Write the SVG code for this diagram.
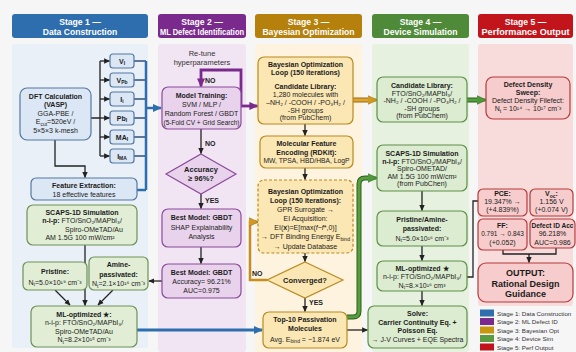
<svg xmlns="http://www.w3.org/2000/svg" width="576" height="352" viewBox="0 0 576 352">
<defs>
<style>
text{font-family:"Liberation Sans",Arial,sans-serif;font-size:7px;fill:#1b1b1b;text-anchor:middle}
.b{font-weight:bold}
.hd{font-size:8.6px;font-weight:bold;fill:#fff}
.lg{text-anchor:start;font-size:6.2px;fill:#333}
.sb{font-size:5px}
.bl{fill:#dbe7f4;stroke:#55789f;stroke-width:1.2}
.gr{fill:#e1eed5;stroke:#6e9158;stroke-width:1.2}
.pu{fill:#e8d2ec;stroke:#8a4b9a;stroke-width:1.2}
.ye{fill:#fbe7b3;stroke:#b98a1f;stroke-width:1.2}
.g4{fill:#dcecd0;stroke:#5e9048;stroke-width:1.2}
.rd{fill:#f6cccc;stroke:#b6393b;stroke-width:1.2}
.ln{fill:none;stroke:#222;stroke-width:1.3}
.lnb{fill:none;stroke:#2f6eae;stroke-width:2}
</style>
<marker id="ak" markerUnits="userSpaceOnUse" viewBox="0 0 10 10" refX="9" refY="5" markerWidth="6" markerHeight="6" orient="auto"><path d="M0,0.5L10,5L0,9.5z" fill="#222"/></marker>
<marker id="ab" markerUnits="userSpaceOnUse" viewBox="0 0 10 10" refX="9" refY="5" markerWidth="9" markerHeight="9" orient="auto"><path d="M0,0.5L10,5L0,9.5z" fill="#2f6eae"/></marker>
<marker id="ap" markerUnits="userSpaceOnUse" viewBox="0 0 10 10" refX="9" refY="5" markerWidth="9" markerHeight="9" orient="auto"><path d="M0,0.5L10,5L0,9.5z" fill="#7a2a8c"/></marker>
<marker id="ao" markerUnits="userSpaceOnUse" viewBox="0 0 10 10" refX="9" refY="5" markerWidth="10" markerHeight="10" orient="auto"><path d="M0,0.5L10,5L0,9.5z" fill="#d39a22" stroke="#9a6a10" stroke-width="0.6"/></marker>
<marker id="ag" markerUnits="userSpaceOnUse" viewBox="0 0 10 10" refX="9" refY="5" markerWidth="10" markerHeight="10" orient="auto"><path d="M0,0.5L10,5L0,9.5z" fill="#4f9a38" stroke="#2e5e20" stroke-width="0.6"/></marker>
</defs>

<rect x="0" y="0" width="576" height="352" fill="#f6f6f6"/>

<g id="panels">
<rect x="12" y="44" width="136" height="304" rx="3" fill="#e9f0f8"/>
<rect x="158" y="44" width="88" height="308" rx="3" fill="#f1e4f3"/>
<rect x="255" y="44" width="107" height="308" rx="3" fill="#fdf3df"/>
<rect x="372" y="44" width="97" height="308" rx="3" fill="#e6f1df"/>
<rect x="478" y="44" width="95" height="262" rx="3" fill="#f8dcdc"/>
</g>

<g id="headers">
<rect x="12" y="14" width="136" height="24" rx="3" fill="#2f6eae"/>
<text class="hd" x="80" y="24.5">Stage 1 —</text>
<text class="hd" x="80" y="34.5">Data Construction</text>
<rect x="158" y="14" width="88" height="24" rx="3" fill="#7a2a8c"/>
<text class="hd" x="202" y="24.5">Stage 2 —</text>
<text class="hd" x="202" y="34.5" textLength="84" lengthAdjust="spacingAndGlyphs">ML Defect Identification</text>
<rect x="255" y="14" width="107" height="24" rx="3" fill="#b5800c"/>
<text class="hd" x="308.5" y="24.5">Stage 3 —</text>
<text class="hd" x="308.5" y="34.5">Bayesian Optimization</text>
<rect x="372" y="14" width="97" height="24" rx="3" fill="#4f8a39"/>
<text class="hd" x="420.5" y="24.5">Stage 4 —</text>
<text class="hd" x="420.5" y="34.5">Device Simulation</text>
<rect x="478" y="14" width="95" height="24" rx="3" fill="#c1141b"/>
<text class="hd" x="525.5" y="24.5">Stage 5 —</text>
<text class="hd" x="525.5" y="34.5" textLength="88" lengthAdjust="spacingAndGlyphs">Performance Output</text>
</g>

<g id="connectors">
<path class="ln" d="M91,118H100M100,61V156"/>
<path class="ln" d="M100,61H109.5" marker-end="url(#ak)"/>
<path class="ln" d="M100,80H109.5" marker-end="url(#ak)"/>
<path class="ln" d="M100,99H109.5" marker-end="url(#ak)"/>
<path class="ln" d="M100,118H109.5" marker-end="url(#ak)"/>
<path class="ln" d="M100,137H109.5" marker-end="url(#ak)"/>
<path class="ln" d="M100,156H109.5" marker-end="url(#ak)"/>
<path class="ln" d="M134,61H146M134,80H146M134,99H146M134,118H146M134,137H146M134,156H146" style="stroke:#2f4f7a"/>
<path class="lnb" d="M146,61V190M137,190H146" style="stroke-width:2.5"/>
<path class="lnb" d="M146,108H161" style="stroke-width:2.5" marker-end="url(#ab)"/>
<path class="ln" d="M55,140V166H85V177.5" marker-end="url(#ak)"/>
<path class="ln" d="M85,245V305.5" marker-end="url(#ak)"/>
<path class="ln" d="M55,290L70,305" marker-end="url(#ak)"/>
<path class="ln" d="M113,290L98,305" marker-end="url(#ak)"/>
<path fill="none" stroke="#2f6eae" stroke-width="3" d="M137,330H262" marker-end="url(#ab)"/>
<path fill="none" stroke="#7a2a8c" stroke-width="2.8" d="M241,106V70H201V86.5" marker-end="url(#ap)"/>
<path fill="none" stroke="#7a2a8c" stroke-width="2.8" d="M241,106H257.5" marker-end="url(#ap)"/>
<path class="ln" d="M201,129V153.5" marker-end="url(#ak)"/>
<path class="ln" d="M201,194V208.5" marker-end="url(#ak)"/>
<path class="ln" d="M201,247V263.5" marker-end="url(#ak)"/>
<path class="ln" d="M162,281H149" marker-end="url(#ak)"/>
<path class="ln" d="M305,124V135.5" marker-end="url(#ak)"/>
<path class="ln" d="M305,168V179.5" marker-end="url(#ak)"/>
<path class="ln" d="M305,253V261.5" marker-end="url(#ak)"/>
<path class="ln" d="M305,298V311.5" marker-end="url(#ak)"/>
<path fill="none" stroke="#9a6a10" stroke-width="5" d="M353,100H369"/>
<path fill="none" stroke="#e0a433" stroke-width="3" d="M353,100H376.5" marker-end="url(#ao)"/>
<path fill="none" stroke="#c98d1a" stroke-width="2.5" d="M267,280H250V222H257.5" marker-end="url(#ao)"/>
<path class="ln" d="M347,330H367.5" marker-end="url(#ak)"/>
<path fill="none" stroke="#2e5e20" stroke-width="5" d="M347,317H353Q359,317 359,311V184Q359,178 365,178H370"/>
<path fill="none" stroke="#55a03c" stroke-width="3" d="M347,317H353Q359,317 359,311V184Q359,178 365,178H376.5" marker-end="url(#ag)"/>
<path fill="none" stroke="#2e5e20" stroke-width="5" d="M467,100H478"/>
<path fill="none" stroke="#55a03c" stroke-width="3" d="M467,100H485.5" marker-end="url(#ag)"/>
<path class="ln" d="M422,191V210.5" marker-end="url(#ak)"/>
<path class="ln" d="M422,246V260.5" marker-end="url(#ak)"/>
<path class="ln" d="M422,291V305.5" marker-end="url(#ak)"/>
<path class="ln" d="M467,277H473V201H478"/>
<path class="ln" d="M503,250V254H556V248"/>
<path class="ln" d="M529,254V262.5" marker-end="url(#ak)"/>
</g>

<g id="labels">
<text x="202" y="55.5" style="font-size:7.5px;fill:#333">Re-tune</text>
<text x="202" y="64.5" style="font-size:7.5px;fill:#333">hyperparameters</text>
<text class="b" x="205" y="83" style="text-anchor:start">NO</text>
<text class="b" x="205" y="146" style="text-anchor:start">NO</text>
<text class="b" x="205" y="203" style="text-anchor:start">YES</text>
<text class="b" x="252" y="276" style="text-anchor:start">NO</text>
<text class="b" x="309" y="305" style="text-anchor:start">YES</text>
</g>

<g id="dft">
<rect class="bl" x="20" y="88" width="71" height="52" rx="7"/>
<text class="b" x="55.5" y="99">DFT Calculation</text>
<text class="b" x="55.5" y="107">(VASP)</text>
<text x="55.5" y="115.5">GGA-PBE /</text>
<text x="55.5" y="124">E<tspan class="sb" dy="1.5">cut</tspan><tspan dy="-1.5">=520eV /</tspan></text>
<text x="55.5" y="132.5">5×5×3 k-mesh</text>
</g>

<g id="f1"><rect class="bl" x="110" y="54" width="24" height="14" rx="3"/><text class="b" x="122" y="63.5">V<tspan class="sb" dy="1.5">I</tspan></text></g>
<g id="f2"><rect class="bl" x="110" y="73" width="24" height="14" rx="3"/><text class="b" x="122" y="82.5">V<tspan class="sb" dy="1.5">Pb</tspan></text></g>
<g id="f3"><rect class="bl" x="110" y="92" width="24" height="14" rx="3"/><text class="b" x="122" y="101.5">I<tspan class="sb" dy="1.5">i</tspan></text></g>
<g id="f4"><rect class="bl" x="110" y="111" width="24" height="14" rx="3"/><text class="b" x="122" y="120.5">Pb<tspan class="sb" dy="1.5">I</tspan></text></g>
<g id="f5"><rect class="bl" x="110" y="130" width="24" height="14" rx="3"/><text class="b" x="122" y="139.5">MA<tspan class="sb" dy="1.5">I</tspan></text></g>
<g id="f6"><rect class="bl" x="110" y="149" width="24" height="14" rx="3"/><text class="b" x="122" y="158.5">I<tspan class="sb" dy="1.5">MA</tspan></text></g>

<g id="feature-extraction">
<rect class="bl" x="31" y="178" width="106" height="22" rx="5"/>
<text class="b" x="84" y="187.5">Feature Extraction:</text>
<text x="84" y="196.5">18 effective features</text>
</g>

<g id="scaps1">
<rect class="gr" x="27" y="205" width="110" height="40" rx="6"/>
<text class="b" x="82" y="214.5">SCAPS-1D Simulation</text>
<text x="82" y="223"><tspan class="b">n-i-p:</tspan> FTO/SnO₂/MAPbI₃/</text>
<text x="94" y="231.5">Spiro-OMeTAD/Au</text>
<text x="80" y="240">AM 1.5G 100 mW/cm²</text>
</g>

<g id="pristine">
<rect class="gr" x="23" y="262" width="64" height="28" rx="5"/>
<text class="b" x="55" y="274">Pristine:</text>
<text x="55" y="284.5">N<tspan class="sb" dy="1.5">t</tspan><tspan dy="-1.5">=5.0×10¹⁹ cm⁻³</tspan></text>
</g>

<g id="amine">
<rect class="gr" x="89" y="257" width="59" height="33" rx="5"/>
<text class="b" x="118.5" y="267">Amine-</text>
<text class="b" x="118.5" y="276.5">passivated:</text>
<text x="118.5" y="286">N<tspan class="sb" dy="1.5">t</tspan><tspan dy="-1.5">=2.1×10¹⁶ cm⁻³</tspan></text>
</g>

<g id="mlopt1">
<rect class="gr" x="31" y="306" width="106" height="41" rx="6"/>
<text class="b" x="84" y="316.5">ML-optimized ★:</text>
<text x="84" y="325">n-i-p: FTO/SnO₂/MAPbI₃/</text>
<text x="84" y="333.5">Spiro-OMeTAD/Au</text>
<text x="84" y="342">N<tspan class="sb" dy="1.5">t</tspan><tspan dy="-1.5">=8.2×10¹⁵ cm⁻³</tspan></text>
</g>

<g id="model-training">
<rect class="pu" x="162" y="87" width="79" height="42" rx="6"/>
<text class="b" x="201.5" y="97.5">Model Training:</text>
<text x="201.5" y="106.5">SVM / MLP /</text>
<text x="201.5" y="115.5">Random Forest / GBDT</text>
<text x="201.5" y="124.5" textLength="76" lengthAdjust="spacingAndGlyphs">(5-Fold CV + Grid Search)</text>
</g>

<g id="accuracy">
<polygon class="pu" points="201,154 236,174 201,194 166,174"/>
<text class="b" x="201" y="171.5" style="font-size:7.5px">Accuracy</text>
<text class="b" x="201" y="181" style="font-size:7.5px">≥ 96%?</text>
</g>

<g id="best1">
<rect class="pu" x="162" y="209" width="79" height="38" rx="6"/>
<text class="b" x="201.5" y="220">Best Model: GBDT</text>
<text x="201.5" y="229.5">SHAP Explainability</text>
<text x="201.5" y="238.5">Analysis</text>
</g>

<g id="best2">
<rect class="pu" x="162" y="264" width="79" height="34" rx="6"/>
<text class="b" x="201.5" y="274.5">Best Model: GBDT</text>
<text x="201.5" y="284">Accuracy= 96.21%</text>
<text x="201.5" y="293">AUC=0.975</text>
</g>

<g id="bo-library">
<rect class="ye" x="258" y="57" width="95" height="67" rx="6"/>
<text class="b" x="305.5" y="67">Bayesian Optimization</text>
<text class="b" x="305.5" y="75">Loop (150 iterations)</text>
<text class="b" x="305.5" y="88.5">Candidate Library:</text>
<text x="305.5" y="96.5">1,280 molecules with</text>
<text x="305.5" y="104.5">–NH₂ / -COOH / -PO₃H₂ /</text>
<text x="305.5" y="112.5">-SH groups</text>
<text x="305.5" y="120">(from PubChem)</text>
</g>

<g id="mol-encoding">
<rect class="ye" x="260" y="136" width="93" height="32" rx="6"/>
<text class="b" x="306.5" y="146">Molecular Feature</text>
<text class="b" x="306.5" y="154.5">Encoding (RDKit):</text>
<text x="306.5" y="163" textLength="86" lengthAdjust="spacingAndGlyphs">MW, TPSA, HBD/HBA, LogP</text>
</g>

<g id="bo-loop">
<rect class="ye" x="258" y="180" width="95" height="73" rx="6" stroke-dasharray="3 2"/>
<text class="b" x="305.5" y="194">Bayesian Optimization</text>
<text class="b" x="305.5" y="203">Loop (150 Iterations):</text>
<text x="305.5" y="212">GPR Surrogate →</text>
<text x="305.5" y="221">EI Acquisition:</text>
<text x="305.5" y="230">EI(<tspan class="b">x</tspan>)=E[max(<tspan font-style="italic">f</tspan>−<tspan font-style="italic">f</tspan>*,0)]</text>
<text x="305.5" y="239" textLength="89" lengthAdjust="spacingAndGlyphs">→ DFT Binding Energy E<tspan class="sb" dy="1.5">bind</tspan></text>
<text x="305.5" y="248.5">→ Update Database</text>
</g>

<g id="converged">
<polygon class="ye" points="305,262 343,280 305,298 267,280"/>
<text class="b" x="305" y="282.5" style="font-size:7.5px">Converged?</text>
</g>

<g id="top10">
<rect class="ye" x="263" y="312" width="84" height="36" rx="6"/>
<text class="b" x="305" y="321.5">Top-10 Passivation</text>
<text class="b" x="305" y="330.5">Molecules</text>
<text x="305" y="341.5">Avg. E<tspan class="sb" dy="1.5">bind</tspan><tspan dy="-1.5"> = −1.874 eV</tspan></text>
</g>

<g id="cand-lib4">
<rect class="g4" x="377" y="77" width="90" height="45" rx="6"/>
<text class="b" x="422" y="87.5">Candidate Library:</text>
<text x="422" y="95.5">FTO/SnO₂/MAPbI₃/</text>
<text x="422" y="103">-NH₂ / -COOH / -PO₃H₂ /</text>
<text x="422" y="110.5">-SH groups</text>
<text x="422" y="118">(from PubChem)</text>
</g>

<g id="scaps4">
<rect class="g4" x="377" y="145" width="90" height="46" rx="6"/>
<text class="b" x="422" y="155.5">SCAPS-1D Simulation</text>
<text x="422" y="163.5"><tspan class="b">n-i-p:</tspan> FTO/SnO₂/MAPbI₃/</text>
<text x="422" y="171">Spiro-OMETAD/</text>
<text x="422" y="178.5">AM 1.5G 100 mW/cm²</text>
<text x="422" y="186">(from PubChen)</text>
</g>

<g id="pa4">
<rect class="g4" x="377" y="211" width="90" height="35" rx="6"/>
<text class="b" x="422" y="221.5">Pristine/Amine-</text>
<text class="b" x="422" y="230.5">passivated:</text>
<text x="422" y="240.5">N<tspan class="sb" dy="1.5">t</tspan><tspan dy="-1.5">=5.0×10¹⁶ cm⁻³</tspan></text>
</g>

<g id="ml4">
<rect class="g4" x="377" y="261" width="90" height="30" rx="6"/>
<text class="b" x="422" y="270.5">ML-optimized ★</text>
<text x="422" y="279">n-i-p: FTO/SnO₂/MAPbI₃/</text>
<text x="422" y="287.5">N<tspan class="sb" dy="1.5">t</tspan><tspan dy="-1.5">=8.×10¹⁶ cm³</tspan></text>
</g>

<g id="solve">
<rect class="g4" x="368" y="306" width="99" height="42" rx="6"/>
<text class="b" x="417.5" y="316">Solve:</text>
<text class="b" x="417.5" y="324.5">Carrier Continuity Eq. +</text>
<text class="b" x="417.5" y="333">Poisson Eq.</text>
<text x="417.5" y="342" textLength="92" lengthAdjust="spacingAndGlyphs">→ J-V Curves + EQE Spectra</text>
</g>

<g id="sweep">
<rect class="rd" x="486" y="77" width="84" height="42" rx="7"/>
<text class="b" x="528" y="86.5">Defect Density</text>
<text class="b" x="528" y="94.5">Sweep:</text>
<text x="528" y="102.5">Defect Density Filefect:</text>
<text x="528" y="111">N<tspan class="sb" dy="1.5">t</tspan><tspan dy="-1.5"> = 10¹⁴ → 10¹⁷ cm⁻³</tspan></text>
</g>

<g id="pce">
<rect class="rd" x="478" y="189" width="49" height="27" rx="5"/>
<text class="b" x="502.5" y="196">PCE:</text>
<text x="502.5" y="204">19.347% →</text>
<text x="502.5" y="212">(+4.839%)</text>
</g>

<g id="voc">
<rect class="rd" x="530" y="189" width="43" height="27" rx="5"/>
<text class="b" x="551.5" y="196">V<tspan class="sb" dy="1.5">oc</tspan><tspan dy="-1.5">:</tspan></text>
<text x="551.5" y="204">1.156 V</text>
<text x="551.5" y="212">(+0.074 V)</text>
</g>

<g id="ff">
<rect class="rd" x="478" y="219" width="49" height="31" rx="5"/>
<text class="b" x="502.5" y="227.5">FF:</text>
<text x="502.5" y="236" style="font-size:6.5px">0.791 → 0.843</text>
<text x="502.5" y="245">(+0.052)</text>
</g>

<g id="defect-acc">
<rect class="rd" x="530" y="219" width="45" height="29" rx="5"/>
<text class="b" x="552.5" y="227.5" textLength="42" lengthAdjust="spacingAndGlyphs">Defect ID Acc</text>
<text x="552.5" y="236">96.218%</text>
<text x="552.5" y="244.5">AUC=0.986</text>
</g>

<g id="output">
<rect class="rd" x="478" y="263" width="95" height="39" rx="8" stroke-width="1.5"/>
<text class="b" x="525.5" y="275.5" style="font-size:9px">OUTPUT:</text>
<text class="b" x="525.5" y="286.5" style="font-size:9px">Rational Design</text>
<text class="b" x="525.5" y="297" style="font-size:9px">Guidance</text>
</g>

<g id="legend">
<rect x="480" y="309.5" width="14" height="7" fill="#2f6eae"/>
<text class="lg" x="497" y="315.8">Stage 1: Data Construction</text>
<rect x="480" y="318" width="14" height="7" fill="#7a2a8c"/>
<text class="lg" x="497" y="324.3">Stage 2: ML Defect ID</text>
<rect x="480" y="326.5" width="14" height="7" fill="#c8960f"/>
<text class="lg" x="497" y="332.8">Stage 3: Bayesian Opt</text>
<rect x="480" y="335" width="14" height="7" fill="#5a9a40"/>
<text class="lg" x="497" y="341.3">Stage 4: Device Sim</text>
<rect x="480" y="343.5" width="14" height="7" fill="#c1141b"/>
<text class="lg" x="497" y="349.8">Stage 5: Perf Output</text>
</g>
</svg>
